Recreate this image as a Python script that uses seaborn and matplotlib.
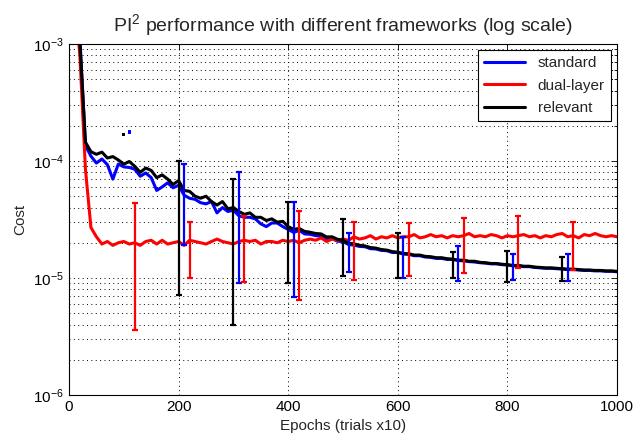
import numpy as np
import pandas as pd
import matplotlib
matplotlib.use("Agg")
import matplotlib.pyplot as plt
import seaborn as sns
from matplotlib.ticker import LogLocator, NullLocator, FixedLocator

# Werte in Einheiten von 1e-5
SCALE = 1e-5
epochs = np.arange(10, 1001, 10)

relevant = [
    400, 100, 14.5, 12.0, 11.4, 11.9, 10.6, 10.9, 10.2, 9.4,
    9.9, 9.0, 8.0, 8.7, 8.3, 7.2, 7.6, 7.0, 6.3, 6.8,
    5.6, 5.5, 5.0, 4.8, 5.0, 4.5, 4.2, 4.5, 3.9, 4.0,
    3.7, 3.5, 3.6, 3.3, 3.3, 3.1, 3.2, 3.0, 3.05, 2.75,
    2.6, 2.65, 2.5, 2.46, 2.4, 2.38, 2.24, 2.25, 2.14, 2.1,
    1.98, 1.96, 1.9, 1.88, 1.82, 1.8, 1.75, 1.73, 1.68, 1.66,
    1.62, 1.61, 1.57, 1.57, 1.53, 1.52, 1.49, 1.49, 1.46, 1.45,
    1.42, 1.42, 1.39, 1.39, 1.36, 1.35, 1.33, 1.33, 1.31, 1.30,
    1.28, 1.28, 1.26, 1.26, 1.24, 1.23, 1.22, 1.22, 1.21, 1.20,
    1.19, 1.19, 1.18, 1.17, 1.17, 1.16, 1.16, 1.15, 1.15, 1.14,
]

standard = [
    400, 110, 13.5, 11.0, 9.6, 10.4, 9.3, 7.0, 9.4, 8.9,
    8.8, 8.5, 7.4, 7.9, 7.2, 5.6, 6.0, 6.5, 5.9, 6.2,
    5.1, 4.8, 4.7, 4.4, 4.3, 4.5, 3.6, 4.0, 3.7, 3.8,
    3.4, 3.3, 3.3, 3.2, 2.9, 2.75, 2.95, 2.95, 2.75, 2.6,
    2.45, 2.55, 2.38, 2.36, 2.3, 2.28, 2.16, 2.18, 2.06, 2.05,
    1.93, 1.91, 1.86, 1.85, 1.78, 1.77, 1.72, 1.71, 1.65, 1.65,
    1.6, 1.59, 1.55, 1.55, 1.51, 1.5, 1.47, 1.47, 1.44, 1.44,
    1.41, 1.4, 1.38, 1.37, 1.35, 1.34, 1.32, 1.32, 1.3, 1.29,
    1.27, 1.27, 1.25, 1.25, 1.23, 1.22, 1.21, 1.21, 1.2, 1.19,
    1.18, 1.18, 1.17, 1.16, 1.16, 1.15, 1.15, 1.14, 1.14, 1.13,
]

dual_layer = [
    300, 77, 8.5, 2.7, 2.25, 1.95, 2.05, 1.9, 2.0, 2.05,
    1.95, 2.0, 1.9, 2.05, 2.1, 1.95, 2.1, 1.95, 2.0, 2.05,
    1.9, 2.1, 2.05, 2.0, 1.95, 2.05, 2.15, 2.05, 2.0, 1.95,
    2.05, 2.1, 2.05, 2.1, 1.95, 2.05, 2.05, 2.0, 2.1, 2.05,
    2.1, 2.0, 2.1, 2.15, 2.1, 2.2, 2.05, 2.15, 2.1, 2.15,
    2.1, 2.25, 2.15, 2.2, 2.3, 2.15, 2.25, 2.2, 2.3, 2.2,
    2.25, 2.25, 2.35, 2.2, 2.25, 2.35, 2.25, 2.3, 2.2, 2.3,
    2.25, 2.3, 2.4, 2.25, 2.3, 2.25, 2.35, 2.3, 2.2, 2.3,
    2.25, 2.3, 2.35, 2.25, 2.3, 2.2, 2.3, 2.25, 2.35, 2.4,
    2.25, 2.3, 2.2, 2.35, 2.3, 2.4, 2.3, 2.25, 2.3, 2.25,
]

# Fehlerbalken: Position, unteres und oberes Ende (x 1e-5)
err_rel_x = [200, 300, 400, 500, 600, 700, 800, 900]
err_rel_lo = [0.72, 0.40, 0.91, 1.03, 0.99, 1.00, 0.93, 0.95]
err_rel_hi = [10.0, 7.0, 4.5, 3.2, 2.4, 1.68, 1.70, 1.52]

err_std_x = [210, 310, 410, 510, 610, 710, 810, 910]
err_std_lo = [1.9, 0.90, 0.69, 1.13, 1.0, 0.95, 0.96, 0.95]
err_std_hi = [9.4, 8.0, 4.5, 2.4, 2.25, 1.88, 1.6, 1.6]

err_dual_x = [120, 220, 320, 420, 520, 620, 720, 820, 920]
err_dual_lo = [0.36, 1.0, 0.93, 0.65, 0.97, 1.03, 1.11, 1.21, 1.17]
err_dual_hi = [4.35, 3.0, 3.4, 3.7, 3.0, 2.95, 3.24, 3.4, 3.0]

# einzelne Punkte bei Epoche 100/110
dot_x = [100, 110]
dot_y = [16.7, 17.7]
dot_col = ["black", "blue"]

series = [
    ("standard", standard, "blue", err_std_x, err_std_lo, err_std_hi),
    ("dual-layer", dual_layer, "red", err_dual_x, err_dual_lo, err_dual_hi),
    ("relevant", relevant, "black", err_rel_x, err_rel_lo, err_rel_hi),
]

sns.set_theme(style="white")
plt.rcParams["font.family"] = ["Liberation Sans", "DejaVu Sans"]
plt.rcParams["mathtext.default"] = "regular"

fig = plt.figure(figsize=(6.36, 4.45), dpi=100)
ax = fig.add_axes([0.1085, 0.1124, 0.8617, 0.7888])

for name, vals, col, *_ in series:
    sns.lineplot(x=epochs, y=np.array(vals) * SCALE, color=col, lw=2.2,
                 label=name, estimator=None, ax=ax)

# Fehlerbalken ueber den Kurven
for name, vals, col, ex, lo, hi in series:
    lo = np.array(lo) * SCALE
    hi = np.array(hi) * SCALE
    mid = np.sqrt(lo * hi)
    ax.errorbar(ex, mid, yerr=[mid - lo, hi - mid], fmt="none", ecolor=col,
                elinewidth=1.6, capsize=2.2, capthick=1.6, zorder=5)

ax.scatter(dot_x, np.array(dot_y) * SCALE, c=dot_col, s=5, marker="s",
           linewidths=0, zorder=5)

ax.set_yscale("log")
ax.set_xlim(0, 1000)
ax.set_ylim(1e-6, 1e-3)
ax.xaxis.set_major_locator(FixedLocator([0, 200, 400, 600, 800, 1000]))
ax.xaxis.set_minor_locator(NullLocator())
ax.yaxis.set_major_locator(LogLocator(base=10, numticks=10))
ax.yaxis.set_minor_locator(LogLocator(base=10, subs=np.arange(2, 10), numticks=20))

ax.grid(True, which="major", axis="both", ls=(0, (1, 3.5)), color="black", lw=0.7)
ax.grid(True, which="minor", axis="y", ls=(0, (1, 3.5)), color="black", lw=0.7)
ax.tick_params(which="both", direction="in", top=True, right=True,
               colors="black", labelsize=11)
ax.tick_params(which="major", length=4, width=0.6)
ax.tick_params(which="minor", length=2.5, width=0.6)
for sp in ax.spines.values():
    sp.set_color("black")
    sp.set_linewidth(0.8)

ax.set_title("PI$^2$ performance with different frameworks (log scale)",
             fontsize=14, pad=9)
ax.set_xlabel("Epochs (trials x10)", fontsize=11)
ax.set_ylabel("Cost", fontsize=11)

leg = ax.legend(loc="upper right", fontsize=11, frameon=True, fancybox=False,
                framealpha=1, edgecolor="black", handlelength=2.7,
                labelspacing=0.55, borderaxespad=0.4)
leg.get_frame().set_linewidth(0.8)

fig.savefig("out.png", dpi=100)
